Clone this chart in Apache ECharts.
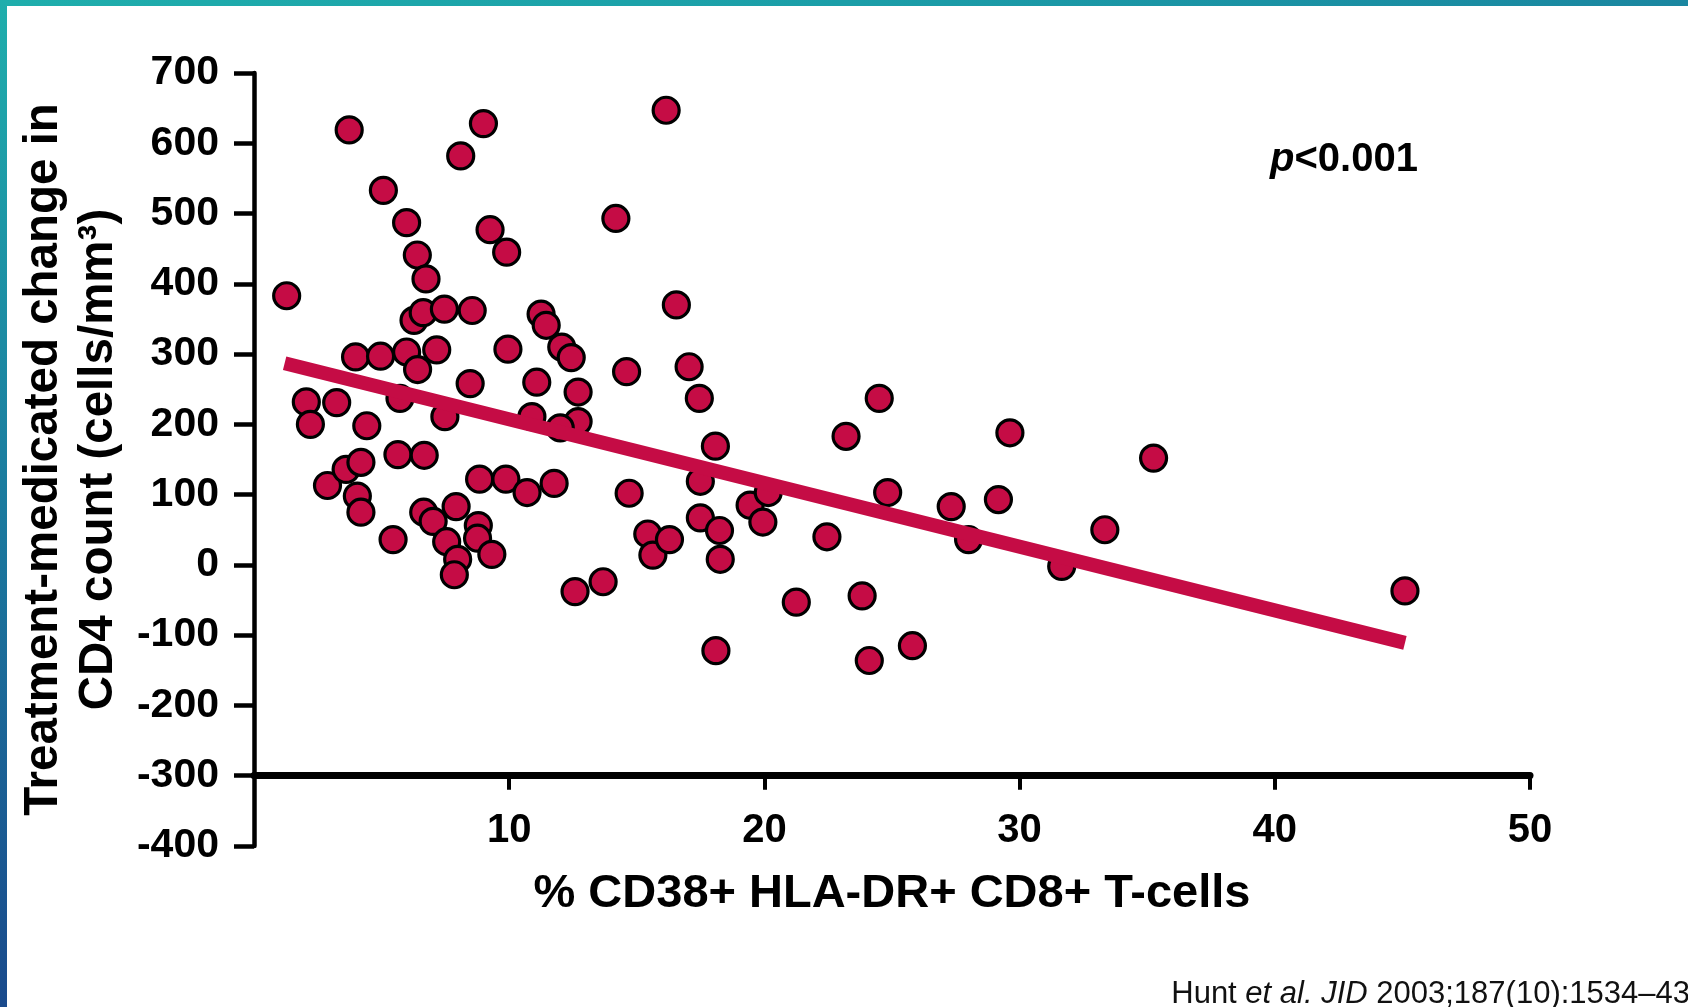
<!DOCTYPE html>
<html>
<head>
<meta charset="utf-8">
<title>CD4 change vs activated CD8 T-cells</title>
<script src="https://cdn.jsdelivr.net/npm/echarts@6/dist/echarts.min.js"></script>
<style>
  html, body { margin: 0; padding: 0; background: #ffffff; }
  #chart { width: 1688px; height: 1007px; }
</style>
</head>
<body>
<div id="chart"></div>
<script>
// % CD38+ HLA-DR+ CD8+ T-cells for each patient
const activationPct = [
  1.28, 3.73, 5.07, 5.98, 6.40, 6.74, 6.27, 6.63, 7.46, 5.98,
  7.16, 3.98, 4.96, 6.41, 5.72, 7.48, 8.47, 8.55, 8.10, 8.99,
  9.25, 9.90, 9.95, 2.05, 2.21, 3.24, 4.42, 2.88, 3.61, 4.19,
  4.05, 4.19, 5.45, 5.64, 6.67, 6.65, 7.02, 7.55, 7.92, 7.98,
  7.85, 8.84, 8.79, 8.76, 9.32, 9.87, 10.70, 10.89, 11.08, 11.25,
  11.45, 12.06, 12.43, 12.70, 12.70, 12.00, 11.76, 12.58, 13.68, 14.18,
  14.60, 14.70, 15.43, 15.63, 16.28, 16.15, 16.55, 17.05, 17.45, 17.49,
  17.49, 18.08, 18.24, 18.27, 18.10, 19.44, 19.94, 20.15, 21.25, 22.45,
  23.20, 23.83, 24.11, 24.50, 24.83, 25.80, 27.32, 28.00, 29.17, 29.62,
  31.65, 33.34, 35.25, 45.10
];

// Treatment-mediated change in CD4 count (cells/mm3) for the same patients
const cd4Change = [
  383, 619, 533, 487, 441, 407, 348, 359, 364, 303,
  306, 296, 297, 278, 237, 211, 258, 362, 582, 628,
  477, 445, 307, 232, 200, 231, 198, 113, 136, 146,
  98, 75, 36, 157, 156, 75, 62, 33, 83, 8,
  -14, 122, 56, 38, 15, 122, 103, 211, 260, 357,
  341, 310, 295, 246, 204, 195, 116, -38, -24, 493,
  275, 102, 44, 14, 36, 647, 370, 282, 237, 119,
  67, 169, 49, 8, -122, 85, 61, 103, -53, 40,
  183, -44, -136, 237, 103, -115, 83, 36, 93, 188,
  -2, 50, 152, -37
];

// End points of the fitted regression line
const fitX = [1.2, 45.1];
const fitY = [287, -111];

// Axis settings
const xTicks = { min: 0, max: 50, step: 10 };
const yTicks = { min: -400, max: 700, step: 100 };

const points = activationPct.map((x, i) => [x, cd4Change[i]]);
const fitLine = fitX.map((x, i) => [x, fitY[i]]);

const FONT = '"Liberation Sans", Arial, Helvetica, sans-serif';
const CRIMSON = '#C50C45';

const W = 1688, H = 1007;
const gridTop = 73, gridBottom = 161, gridLeft = 254, gridRight = 158;
const plotH = H - gridTop - gridBottom;
// the horizontal axis sits one y-step above the bottom of the vertical axis
const xAxisLift = plotH / ((yTicks.max - yTicks.min) / yTicks.step);

const chart = echarts.init(document.getElementById('chart'), null, { renderer: 'canvas' });

chart.setOption({
  backgroundColor: '#ffffff',
  animation: false,
  textStyle: { fontFamily: FONT },
  grid: {
    left: gridLeft, right: gridRight, top: gridTop, bottom: gridBottom,
    containLabel: false,
    outerBoundsMode: 'none'
  },
  xAxis: {
    type: 'value',
    min: xTicks.min, max: xTicks.max, interval: xTicks.step,
    position: 'bottom',
    offset: -xAxisLift,
    name: '% CD38+ HLA-DR+ CD8+ T-cells',
    nameLocation: 'middle',
    nameGap: 93,
    nameTextStyle: { fontFamily: FONT, fontSize: 47, fontWeight: 'bold', color: '#000', lineHeight: 50 },
    axisLine: { show: true, onZero: false, lineStyle: { color: '#000', width: 7 } },
    axisTick: { show: true, inside: false, length: 14, lineStyle: { color: '#000', width: 4 } },
    axisLabel: {
      show: true, margin: 35, showMinLabel: false,
      fontFamily: FONT, fontSize: 40, fontWeight: 'bold', color: '#000', lineHeight: 40
    },
    splitLine: { show: false }
  },
  yAxis: {
    type: 'value',
    min: yTicks.min, max: yTicks.max, interval: yTicks.step,
    position: 'left',
    name: 'Treatment-medicated change in\nCD4 count (cells/mm³)',
    nameLocation: 'middle',
    nameRotate: 90,
    nameGap: 128,
    nameTextStyle: { fontFamily: FONT, fontSize: 47.5, fontWeight: 'bold', color: '#000', lineHeight: 55 },
    axisLine: { show: true, onZero: false, lineStyle: { color: '#000', width: 4.5 } },
    axisTick: { show: true, inside: false, length: 20, lineStyle: { color: '#000', width: 4.5 } },
    axisLabel: {
      show: true, margin: 35,
      fontFamily: FONT, fontSize: 41, fontWeight: 'bold', color: '#000'
    },
    splitLine: { show: false }
  },
  series: [
    {
      name: 'Patients',
      type: 'scatter',
      data: points,
      symbol: 'circle',
      symbolSize: 26,
      itemStyle: { color: CRIMSON, borderColor: '#000', borderWidth: 3.2, opacity: 1 },
      z: 2
    },
    {
      name: 'Regression',
      type: 'line',
      data: fitLine,
      showSymbol: false,
      symbol: 'none',
      lineStyle: { color: CRIMSON, width: 14, cap: 'butt' },
      z: 3
    }
  ],
  graphic: [
    // slide frame: teal band across the top, teal-to-navy band down the left
    {
      type: 'rect', left: 0, top: 0, z: 10,
      shape: { x: 0, y: 0, width: W, height: 6 },
      style: {
        fill: new echarts.graphic.LinearGradient(0, 0, 1, 0, [
          { offset: 0, color: '#1FAEAC' },
          { offset: 0.5, color: '#1B9EA8' },
          { offset: 1, color: '#1A86A0' }
        ])
      },
      silent: true
    },
    {
      type: 'rect', left: 0, top: 0, z: 10,
      shape: { x: 0, y: 0, width: 7, height: H },
      style: {
        fill: new echarts.graphic.LinearGradient(0, 0, 0, 1, [
          { offset: 0, color: '#1FAEAC' },
          { offset: 0.45, color: '#1B7FA0' },
          { offset: 1, color: '#1A4A8C' }
        ])
      },
      silent: true
    },
    // significance note
    {
      type: 'text', z: 10,
      x: 1270, y: 160,
      style: {
        text: '{i|p}{n|<0.001}',
        verticalAlign: 'middle',
        align: 'left',
        rich: {
          i: { fontFamily: FONT, fontSize: 40, fontWeight: 'bold', fontStyle: 'italic', fill: '#000' },
          n: { fontFamily: FONT, fontSize: 40, fontWeight: 'bold', fill: '#000' }
        }
      }
    },
    // source citation
    {
      type: 'text', z: 10,
      x: 1690, y: 994,
      style: {
        text: '{r|Hunt }{i|et al.}{r| }{i|JID}{r| 2003;187(10):1534–43}',
        verticalAlign: 'middle',
        align: 'right',
        rich: {
          r: { fontFamily: FONT, fontSize: 31, fill: '#111' },
          i: { fontFamily: FONT, fontSize: 31, fontStyle: 'italic', fill: '#111' }
        }
      }
    }
  ]
});
</script>
</body>
</html>
